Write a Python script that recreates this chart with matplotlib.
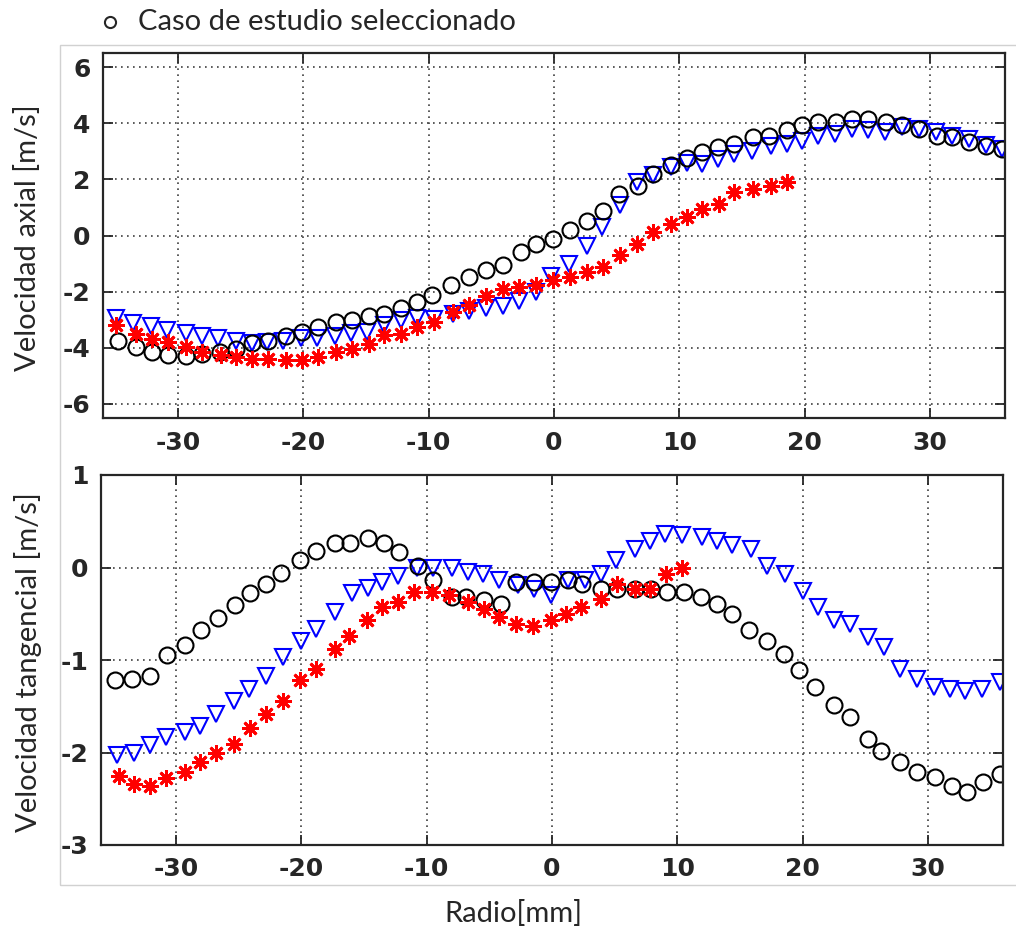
import matplotlib
matplotlib.use("Agg")
import matplotlib.pyplot as plt
from matplotlib.lines import Line2D
from matplotlib.patches import Rectangle

plt.rcParams["axes.unicode_minus"] = False

# ---- data ----
# upper panel: axial velocity
ax_circ_x = [-34.8, -33.4, -32.1, -30.8, -29.4, -28.1, -26.7, -25.4, -24.1, -22.8,
             -21.4, -20.1, -18.8, -17.4, -16.1, -14.8, -13.6, -12.2, -10.9, -9.7,
             -8.2, -6.8, -5.4, -4.1, -2.6, -1.4, -0.1, 1.3, 2.6, 3.9,
             5.2, 6.7, 7.9, 9.3, 10.6, 11.8, 13.1, 14.4, 15.9, 17.2,
             18.6, 19.8, 21.1, 22.5, 23.8, 25.1, 26.5, 27.8, 29.1, 30.6,
             31.8, 33.1, 34.5, 35.8]
ax_circ_y = [-3.75, -3.97, -4.15, -4.25, -4.28, -4.21, -4.15, -4.03, -3.82, -3.75,
             -3.57, -3.43, -3.25, -3.07, -3.00, -2.86, -2.79, -2.58, -2.37, -2.11,
             -1.78, -1.48, -1.24, -1.04, -0.59, -0.30, -0.12, 0.18, 0.50, 0.89,
             1.48, 1.78, 2.20, 2.52, 2.75, 2.97, 3.15, 3.26, 3.50, 3.56,
             3.74, 3.94, 4.06, 4.06, 4.15, 4.15, 4.04, 3.94, 3.80, 3.56,
             3.50, 3.32, 3.20, 3.09]

ax_tri_x = [-35.0, -33.6, -32.2, -30.9, -29.4, -28.1, -26.8, -25.4, -24.1, -22.9,
            -21.6, -20.2, -18.9, -17.5, -16.2, -14.9, -13.6, -12.2, -10.9, -9.6,
            -8.1, -6.8, -5.4, -4.1, -2.8, -1.4, -0.2, 1.2, 2.6, 3.8,
            5.3, 6.6, 7.9, 9.3, 10.6, 11.8, 13.1, 14.4, 15.8, 17.3,
            18.6, 19.8, 21.1, 22.4, 23.8, 25.1, 26.4, 27.8, 29.1, 30.5,
            31.8, 33.1, 34.5, 35.8]
ax_tri_y = [-2.94, -3.12, -3.24, -3.35, -3.47, -3.59, -3.65, -3.77, -3.83, -3.81,
            -3.77, -3.65, -3.65, -3.59, -3.47, -3.42, -3.20, -3.02, -2.95, -2.96,
            -2.78, -2.70, -2.58, -2.50, -2.33, -2.03, -1.45, -1.01, -0.36, 0.30,
            1.07, 1.90, 2.14, 2.43, 2.58, 2.55, 2.73, 2.91, 3.02, 3.20,
            3.26, 3.38, 3.56, 3.62, 3.80, 3.74, 3.70, 3.86, 3.80, 3.68,
            3.56, 3.44, 3.23, 3.09]

ax_star_x = [-35.0, -33.4, -32.1, -30.8, -29.4, -28.1, -26.6, -25.4, -24.1, -22.8,
             -21.4, -20.1, -18.8, -17.4, -16.1, -14.8, -13.6, -12.2, -10.9, -9.6,
             -8.1, -6.8, -5.4, -4.1, -2.8, -1.4, -0.1, 1.3, 2.6, 3.9,
             5.3, 6.6, 7.9, 9.3, 10.6, 11.8, 13.2, 14.4, 15.9, 17.3, 18.6]
ax_star_y = [-3.20, -3.50, -3.68, -3.79, -3.97, -4.15, -4.27, -4.33, -4.41, -4.41,
             -4.45, -4.45, -4.33, -4.15, -4.03, -3.85, -3.56, -3.50, -3.26, -3.08,
             -2.73, -2.49, -2.14, -1.90, -1.84, -1.78, -1.60, -1.48, -1.30, -1.13,
             -0.71, -0.30, 0.12, 0.42, 0.65, 0.95, 1.13, 1.54, 1.66, 1.78, 1.90]

# lower panel: tangential velocity
tg_circ_x = [-34.9, -33.5, -32.1, -30.7, -29.3, -28.0, -26.7, -25.3, -24.1, -22.8,
             -21.6, -20.1, -18.8, -17.3, -16.1, -14.7, -13.4, -12.2, -10.7, -9.5,
             -8.0, -6.9, -5.4, -4.1, -2.9, -1.4, -0.1, 1.3, 2.4, 3.9,
             5.2, 6.6, 7.9, 9.2, 10.5, 11.9, 13.2, 14.4, 15.7, 17.2,
             18.5, 19.7, 21.0, 22.5, 23.8, 25.2, 26.3, 27.8, 29.1, 30.6,
             31.9, 33.1, 34.4, 35.8]
tg_circ_y = [-1.22, -1.20, -1.17, -0.95, -0.84, -0.68, -0.55, -0.40, -0.28, -0.18,
             -0.06, 0.08, 0.18, 0.26, 0.27, 0.32, 0.27, 0.17, 0.02, -0.14,
             -0.32, -0.32, -0.35, -0.39, -0.16, -0.16, -0.16, -0.14, -0.18, -0.23,
             -0.23, -0.23, -0.23, -0.27, -0.27, -0.32, -0.39, -0.50, -0.68, -0.79,
             -0.93, -1.11, -1.29, -1.49, -1.62, -1.85, -1.98, -2.10, -2.21, -2.27,
             -2.36, -2.43, -2.32, -2.23]

tg_tri_x = [-34.7, -33.4, -32.1, -30.8, -29.3, -28.1, -26.8, -25.4, -24.2, -22.8,
            -21.5, -20.0, -18.8, -17.3, -16.0, -14.7, -13.6, -12.3, -10.8, -9.5,
            -8.0, -6.7, -5.5, -4.2, -2.7, -1.4, -0.1, 1.3, 2.6, 3.9,
            5.1, 6.6, 7.8, 9.0, 10.4, 12.0, 13.2, 14.4, 15.9, 17.2,
            18.6, 20.0, 21.2, 22.5, 23.8, 25.2, 26.5, 27.8, 29.1, 30.5,
            31.8, 33.0, 34.3, 35.8]
tg_tri_y = [-2.03, -2.01, -1.92, -1.83, -1.78, -1.71, -1.58, -1.44, -1.31, -1.17,
            -0.97, -0.79, -0.66, -0.48, -0.28, -0.22, -0.16, -0.09, -0.01, 0.00,
            -0.01, -0.05, -0.07, -0.14, -0.19, -0.23, -0.30, -0.14, -0.14, -0.07,
            0.08, 0.20, 0.29, 0.36, 0.35, 0.33, 0.29, 0.24, 0.20, 0.02,
            -0.07, -0.25, -0.43, -0.57, -0.61, -0.75, -0.86, -1.10, -1.20, -1.29,
            -1.31, -1.33, -1.31, -1.24]

tg_star_x = [-34.6, -33.4, -32.1, -30.8, -29.3, -28.1, -26.8, -25.4, -24.1, -22.8,
             -21.5, -20.1, -18.8, -17.3, -16.2, -14.8, -13.6, -12.3, -11.0, -9.6,
             -8.2, -6.7, -5.4, -4.2, -2.9, -1.5, -0.1, 1.1, 2.3, 3.9,
             5.2, 6.6, 7.8, 9.1, 10.4]
tg_star_y = [-2.25, -2.34, -2.36, -2.28, -2.21, -2.10, -2.01, -1.91, -1.74, -1.58,
             -1.44, -1.22, -1.10, -0.88, -0.74, -0.57, -0.43, -0.37, -0.27, -0.27,
             -0.30, -0.37, -0.45, -0.54, -0.61, -0.63, -0.57, -0.50, -0.43, -0.34,
             -0.18, -0.23, -0.23, -0.07, -0.01]

x_ticks = [-30, -20, -10, 0, 10, 20, 30]
top_yticks = [-6, -4, -2, 0, 2, 4, 6]
bot_yticks = [-3, -2, -1, 0, 1]

W, H = 1016, 932
fig = plt.figure(figsize=(W / 100, H / 100), dpi=100)

# light grey frame of the pasted matlab figure
fig.add_artist(Rectangle((60 / W, 1 - 885 / H), 1.0, (885 - 45) / H,
                         transform=fig.transFigure, fill=False,
                         edgecolor="0.82", linewidth=1.0))

ax1 = fig.add_axes([103 / W, 1 - 418 / H, 902 / W, 365 / H])
ax2 = fig.add_axes([101 / W, 1 - 845 / H, 902 / W, 370 / H])

star = (8, 2, 0)  # matlab style asterisk


def draw(ax, cx, cy, tx, ty, sx, sy):
    ax.plot(tx, ty, linestyle="none", marker="v", ms=12, mfc="none",
            mec="blue", mew=1.5)
    ax.plot(cx, cy, linestyle="none", marker="o", ms=11.5, mfc="none",
            mec="black", mew=1.5)
    ax.plot(sx, sy, linestyle="none", marker=star, ms=12, mec="red",
            mew=2.0)


draw(ax1, ax_circ_x, ax_circ_y, ax_tri_x, ax_tri_y, ax_star_x, ax_star_y)
draw(ax2, tg_circ_x, tg_circ_y, tg_tri_x, tg_tri_y, tg_star_x, tg_star_y)

ax1.set_ylim(-6.5, 6.5)
ax1.set_yticks(top_yticks)
ax2.set_ylim(-3, 1)
ax2.set_yticks(bot_yticks)

for ax in (ax1, ax2):
    ax.set_xlim(-36, 36)
    ax.set_xticks(x_ticks)
    ax.grid(True, color="0.25", linestyle=(0, (1, 2.6)), linewidth=1.2)
    ax.set_axisbelow(True)
    ax.tick_params(direction="in", length=7, width=1.3, top=True, right=True,
                   colors="0.15", labelsize=18, pad=9)
    for lab in ax.get_xticklabels() + ax.get_yticklabels():
        lab.set_fontweight("bold")
        lab.set_family("DejaVu Sans")
    for sp in ax.spines.values():
        sp.set_linewidth(1.6)
        sp.set_color("0.15")

txt = dict(family=["Lato", "DejaVu Sans"], color="#262626", fontsize=21)
fig.text(28 / W, 1 - 238 / H, "Velocidad axial [m/s]", rotation=90,
         ha="center", va="center", **txt)
fig.text(28 / W, 1 - 662 / H, "Velocidad tangencial [m/s]", rotation=90,
         ha="center", va="center", **txt)
fig.text(513 / W, 1 - 914 / H, "Radio[mm]", ha="center", va="center", **txt)

fig.add_artist(Line2D([110 / W], [1 - 22 / H], marker="o", ms=8, mfc="none",
                      mec="#262626", mew=1.5, transform=fig.transFigure))
fig.text(138 / W, 1 - 22 / H, "Caso de estudio seleccionado", ha="left",
         va="center", **txt)

fig.savefig("out.png", dpi=100)
